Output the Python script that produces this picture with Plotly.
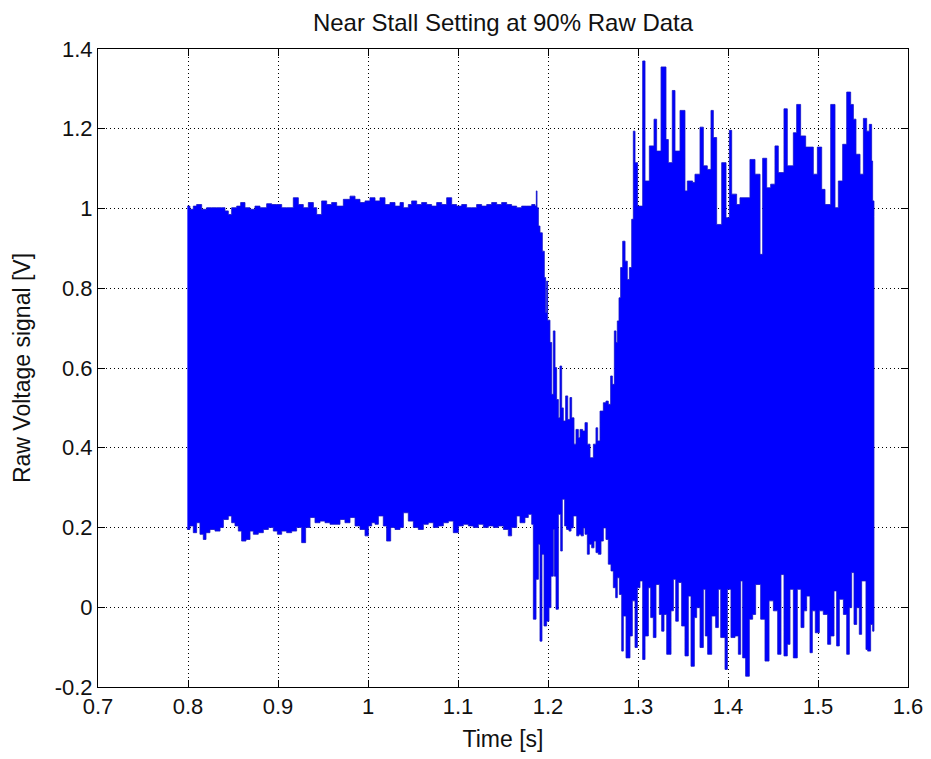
import plotly.graph_objects as go

# ---- Data: envelope of the raw voltage signal ----
# upper envelope (time [s], voltage [V])
t_upper = [0.7993, 0.8022, 0.8059, 0.8096, 0.8152, 0.8207, 0.8263, 0.8319, 0.8374, 0.8411,
           0.8448, 0.8485, 0.8541, 0.8585, 0.8633, 0.8689, 0.8744, 0.8800, 0.8874, 0.8930,
           0.8985, 0.9041, 0.9096, 0.9170, 0.9226, 0.9281, 0.9337, 0.9393, 0.9430, 0.9485,
           0.9541, 0.9596, 0.9652, 0.9726, 0.9800, 0.9856, 0.9911, 0.9967, 1.0022, 1.0078,
           1.0133, 1.0189, 1.0244, 1.0300, 1.0356, 1.0393, 1.0448, 1.0485, 1.0541, 1.0596,
           1.0652, 1.0707, 1.0763, 1.0819, 1.0874, 1.0930, 1.0985, 1.1041, 1.1096, 1.1152,
           1.1207, 1.1263, 1.1319, 1.1374, 1.1430, 1.1485, 1.1541, 1.1596, 1.1652, 1.1707,
           1.1763, 1.1819, 1.1856, 1.1870, 1.1878, 1.1893, 1.1911, 1.1937, 1.1959, 1.1974,
           1.1985, 1.1996, 1.2022, 1.2041, 1.2059, 1.2078, 1.2096, 1.2115, 1.2133, 1.2152,
           1.2170, 1.2196, 1.2219, 1.2244, 1.2263, 1.2289, 1.2311, 1.2337, 1.2356, 1.2385,
           1.2411, 1.2437, 1.2467, 1.2504, 1.2533, 1.2552, 1.2578, 1.2615, 1.2644, 1.2670,
           1.2696, 1.2715, 1.2737, 1.2756, 1.2770, 1.2789, 1.2807, 1.2830, 1.2856, 1.2881,
           1.2904, 1.2930, 1.2948, 1.2967, 1.2996, 1.3052, 1.3078, 1.3126, 1.3178, 1.3207,
           1.3256, 1.3311, 1.3337, 1.3381, 1.3411, 1.3467, 1.3522, 1.3548, 1.3607, 1.3633,
           1.3689, 1.3726, 1.3770, 1.3811, 1.3837, 1.3874, 1.3930, 1.3978, 1.4015, 1.4041,
           1.4096, 1.4133, 1.4178, 1.4244, 1.4300, 1.4356, 1.4385, 1.4430, 1.4474, 1.4522,
           1.4559, 1.4622, 1.4659, 1.4726, 1.4763, 1.4807, 1.4863, 1.4911, 1.4948, 1.4993,
           1.5041, 1.5078, 1.5141, 1.5189, 1.5226, 1.5274, 1.5319, 1.5363, 1.5393, 1.5422,
           1.5467, 1.5504, 1.5541, 1.5570, 1.5596, 1.5607, 1.5622]
v_upper = [1.006, 0.998, 1.006, 1.010, 0.998, 1.002, 1.002, 1.002, 1.002, 0.994,
           0.985, 1.002, 1.006, 1.015, 1.002, 0.998, 1.006, 1.002, 1.012, 1.010,
           1.010, 1.002, 1.002, 1.027, 1.010, 1.002, 1.015, 1.002, 0.985, 1.019,
           1.010, 1.015, 1.006, 1.023, 1.031, 1.023, 1.015, 1.019, 1.027, 1.019,
           1.027, 1.010, 1.015, 1.006, 1.015, 1.002, 1.010, 1.019, 1.010, 1.015,
           1.010, 1.006, 1.015, 1.010, 1.027, 1.010, 1.006, 1.010, 1.002, 1.002,
           1.010, 1.006, 1.010, 1.015, 1.010, 1.015, 1.010, 1.006, 1.002, 1.006,
           1.006, 1.010, 1.006, 1.044, 1.002, 0.956, 0.939, 0.893, 0.827, 0.739,
           0.818, 0.720, 0.664, 0.534, 0.693, 0.601, 0.521, 0.475, 0.605, 0.500,
           0.467, 0.530, 0.471, 0.526, 0.475, 0.409, 0.446, 0.425, 0.446, 0.442,
           0.463, 0.409, 0.375, 0.409, 0.450, 0.417, 0.492, 0.513, 0.517, 0.509,
           0.580, 0.559, 0.693, 0.664, 0.718, 0.776, 0.852, 0.918, 0.868, 0.822,
           0.852, 0.973, 1.194, 1.115, 1.006, 1.370, 1.069, 1.157, 1.224, 1.144,
           1.355, 1.173, 1.115, 1.296, 1.144, 1.246, 1.044, 1.069, 1.065, 1.086,
           1.204, 1.107, 1.098, 1.246, 1.178, 0.960, 1.115, 0.977, 1.196, 1.036,
           1.010, 1.027, 1.027, 1.123, 1.086, 0.885, 1.126, 1.052, 1.061, 1.157,
           1.090, 1.250, 1.107, 1.190, 1.261, 1.182, 1.154, 1.154, 1.086, 1.154,
           1.048, 1.010, 1.261, 1.002, 1.069, 1.161, 1.292, 1.261, 1.224, 1.136,
           1.086, 1.226, 1.194, 1.211, 1.119, 1.019, 0.980]

# lower envelope (time [s], voltage [V])
t_lower = [0.7993, 0.8022, 0.8059, 0.8096, 0.8133, 0.8170, 0.8200, 0.8244, 0.8300, 0.8356,
           0.8393, 0.8448, 0.8485, 0.8522, 0.8559, 0.8596, 0.8644, 0.8689, 0.8726, 0.8781,
           0.8837, 0.8893, 0.8948, 0.8993, 0.9041, 0.9096, 0.9152, 0.9207, 0.9263, 0.9307,
           0.9356, 0.9411, 0.9467, 0.9522, 0.9578, 0.9633, 0.9689, 0.9744, 0.9800, 0.9856,
           0.9911, 0.9967, 1.0004, 1.0041, 1.0078, 1.0115, 1.0170, 1.0207, 1.0252, 1.0300,
           1.0356, 1.0393, 1.0448, 1.0504, 1.0559, 1.0615, 1.0670, 1.0726, 1.0781, 1.0837,
           1.0893, 1.0948, 1.1004, 1.1059, 1.1115, 1.1170, 1.1226, 1.1281, 1.1337, 1.1393,
           1.1448, 1.1504, 1.1559, 1.1596, 1.1652, 1.1689, 1.1744, 1.1781, 1.1819, 1.1837,
           1.1867, 1.1893, 1.1911, 1.1933, 1.1956, 1.1985, 1.2011, 1.2033, 1.2059, 1.2070,
           1.2089, 1.2115, 1.2141, 1.2159, 1.2185, 1.2207, 1.2233, 1.2256, 1.2281, 1.2319,
           1.2344, 1.2367, 1.2393, 1.2411, 1.2437, 1.2459, 1.2485, 1.2511, 1.2533, 1.2559,
           1.2589, 1.2615, 1.2644, 1.2670, 1.2700, 1.2726, 1.2752, 1.2770, 1.2793, 1.2819,
           1.2837, 1.2867, 1.2911, 1.2937, 1.2967, 1.2993, 1.3022, 1.3052, 1.3078, 1.3115,
           1.3141, 1.3170, 1.3200, 1.3237, 1.3263, 1.3289, 1.3319, 1.3367, 1.3393, 1.3419,
           1.3448, 1.3485, 1.3522, 1.3559, 1.3589, 1.3626, 1.3652, 1.3689, 1.3726, 1.3748,
           1.3774, 1.3819, 1.3863, 1.3893, 1.3919, 1.3967, 1.3993, 1.4033, 1.4078, 1.4115,
           1.4141, 1.4163, 1.4196, 1.4237, 1.4274, 1.4307, 1.4363, 1.4411, 1.4456, 1.4504,
           1.4552, 1.4589, 1.4622, 1.4659, 1.4689, 1.4726, 1.4770, 1.4811, 1.4844, 1.4874,
           1.4911, 1.4937, 1.4970, 1.5015, 1.5059, 1.5107, 1.5141, 1.5178, 1.5207, 1.5237,
           1.5282, 1.5319, 1.5348, 1.5374, 1.5400, 1.5430, 1.5459, 1.5485, 1.5533, 1.5552,
           1.5585, 1.5607, 1.5622]
v_lower = [0.200, 0.195, 0.204, 0.187, 0.212, 0.183, 0.170, 0.187, 0.195, 0.191,
           0.200, 0.220, 0.229, 0.212, 0.204, 0.191, 0.166, 0.170, 0.191, 0.183,
           0.187, 0.195, 0.200, 0.191, 0.183, 0.191, 0.187, 0.191, 0.200, 0.162,
           0.200, 0.225, 0.212, 0.216, 0.212, 0.208, 0.208, 0.220, 0.212, 0.225,
           0.204, 0.195, 0.179, 0.204, 0.212, 0.208, 0.229, 0.204, 0.166, 0.200,
           0.195, 0.200, 0.237, 0.216, 0.200, 0.195, 0.208, 0.212, 0.200, 0.204,
           0.212, 0.216, 0.187, 0.204, 0.208, 0.204, 0.200, 0.208, 0.200, 0.204,
           0.200, 0.204, 0.195, 0.179, 0.200, 0.229, 0.212, 0.225, 0.233, 0.208,
           -0.030, 0.070, 0.158, -0.085, 0.133, -0.047, -0.035, -0.001, 0.078, 0.195,
           0.078, -0.005, 0.233, 0.141, 0.271, 0.204, 0.195, 0.191, 0.199, 0.229,
           0.179, 0.183, 0.179, 0.199, 0.183, 0.133, 0.158, 0.149, 0.166, 0.137,
           0.133, 0.166, 0.199, 0.170, 0.108, 0.091, 0.049, 0.024, 0.074, 0.032,
           -0.110, -0.022, -0.127, -0.072, 0.016, -0.101, 0.049, 0.066, -0.131, -0.072,
           0.049, -0.026, -0.076, 0.057, -0.018, -0.060, -0.018, -0.118, -0.009, 0.070,
           -0.035, 0.062, -0.047, -0.122, 0.028, -0.148, -0.026, -0.001, -0.101, 0.045,
           -0.072, -0.118, -0.022, -0.051, 0.045, -0.076, -0.156, 0.045, -0.076, -0.072,
           -0.118, 0.066, -0.127, -0.173, -0.030, -0.018, 0.057, -0.030, -0.135, 0.016,
           -0.009, -0.118, 0.082, -0.122, -0.093, 0.045, -0.127, 0.045, -0.051, -0.009,
           0.028, -0.114, -0.009, -0.064, -0.009, -0.018, -0.093, -0.072, 0.041, -0.097,
           0.020, -0.018, -0.118, -0.001, 0.087, -0.043, -0.001, -0.068, 0.066, -0.106,
           -0.110, -0.043, -0.060]

x_tick_vals = [0.7, 0.8, 0.9, 1.0, 1.1, 1.2, 1.3, 1.4, 1.5, 1.6]
x_tick_text = ["0.7", "0.8", "0.9", "1", "1.1", "1.2", "1.3", "1.4", "1.5", "1.6"]
y_tick_vals = [-0.2, 0.0, 0.2, 0.4, 0.6, 0.8, 1.0, 1.2, 1.4]
y_tick_text = ["-0.2", "0", "0.2", "0.4", "0.6", "0.8", "1", "1.2", "1.4"]

FONT = "Liberation Sans, Arial, sans-serif"

fig = go.Figure()
fig.add_trace(go.Scatter(
    x=t_upper + t_lower[::-1],
    y=v_upper + v_lower[::-1],
    mode="lines",
    line_shape="hv",
    fill="toself",
    fillcolor="rgb(0,0,255)",
    line=dict(color="rgb(20,20,200)", width=0.8),
    showlegend=False,
    hoverinfo="skip",
))

axis_common = dict(
    showline=True, linecolor="black", linewidth=1, mirror="ticks",
    ticks="inside", ticklen=7, tickwidth=1, tickcolor="black",
    showgrid=True, gridcolor="black", gridwidth=1, griddash="1px,3px",
    zeroline=False, automargin=False,
    tickfont=dict(family=FONT, size=22, color="#111"),
)

fig.update_xaxes(range=[0.7, 1.6], tickvals=x_tick_vals, ticktext=x_tick_text,
                 title=dict(text="Time [s]", font=dict(family=FONT, size=23, color="#111"), standoff=12),
                 **axis_common)
fig.update_yaxes(range=[-0.2, 1.4], tickvals=y_tick_vals, ticktext=y_tick_text,
                 title=dict(text="Raw Voltage signal [V]", font=dict(family=FONT, size=23, color="#111"), standoff=17),
                 **axis_common)

fig.update_layout(
    width=931, height=759,
    margin=dict(l=98, r=23, t=49, b=72, autoexpand=False),
    paper_bgcolor="white", plot_bgcolor="white",
    title=dict(text="Near Stall Setting at 90% Raw Data", x=0.5, xref="paper",
               y=1 - 23 / 759, yref="container", yanchor="middle", xanchor="center",
               font=dict(family=FONT, size=24, color="#111")),
)

fig.write_html("out.html", config={"displayModeBar": False},
               post_script="document.body.style.margin='0';document.body.style.padding='0';")
